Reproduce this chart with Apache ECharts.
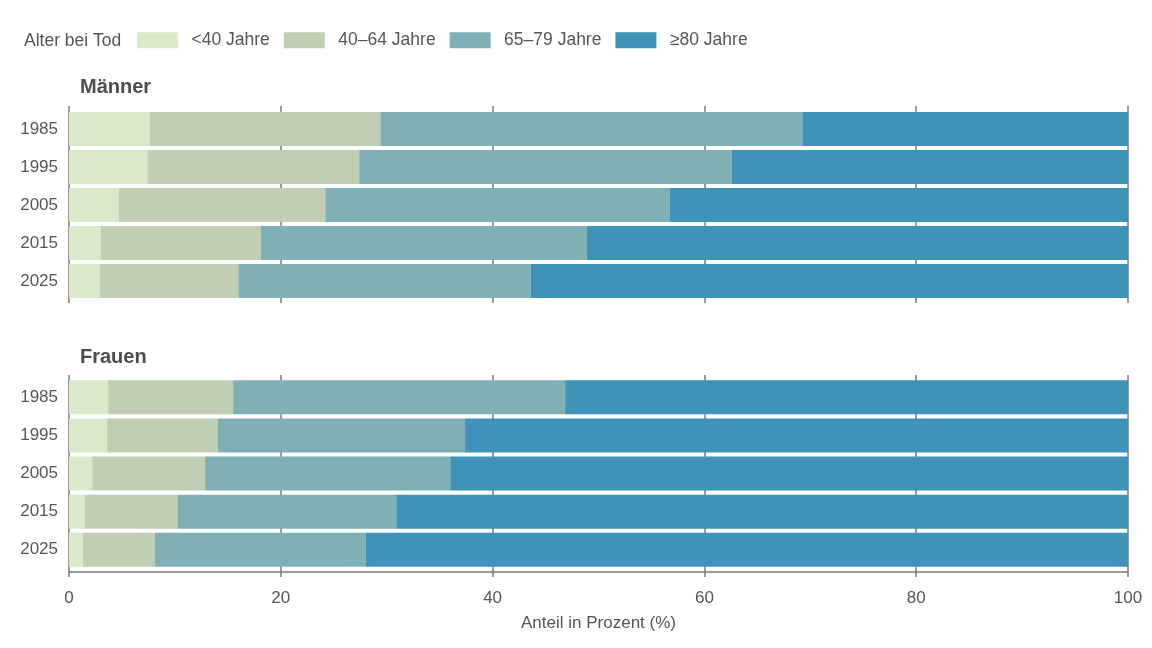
<!DOCTYPE html>
<html>
<head>
<meta charset="utf-8">
<script src="https://cdn.jsdelivr.net/npm/echarts@6/dist/echarts.min.js"></script>
<style>html,body{margin:0;padding:0;background:#fff}#c{width:1152px;height:648px}</style>
</head>
<body>
<div id="c"></div>
<script>
// ---- data ----
const years = ['1985', '1995', '2005', '2015', '2025'];
const groups = ['<40 Jahre', '40–64 Jahre', '65–79 Jahre', '≥80 Jahre'];
const xTicks = [0, 20, 40, 60, 80, 100];
// Männer (percent share per age group)
const men_u40   = [7.6, 7.4, 4.7, 3.0, 2.9];
const men_40_64 = [21.8, 20.0, 19.5, 15.1, 13.1];
const men_65_79 = [39.85, 35.2, 32.5, 30.8, 27.6];
const men_80    = [30.75, 37.4, 43.3, 51.1, 56.4];
// Frauen
const wom_u40   = [3.7, 3.6, 2.2, 1.5, 1.3];
const wom_40_64 = [11.8, 10.45, 10.65, 8.75, 6.8];
const wom_65_79 = [31.35, 23.35, 23.15, 20.65, 19.9];
const wom_80    = [53.15, 62.6, 64.0, 69.1, 72.0];

const colors = ['#d9eacb', '#c0cfb4', '#80b0b5', '#3f93b9'];
const FONT = '"Liberation Sans", Arial, sans-serif';
const TXT = '#555555';
const GRIDC = '#7a7a7a';

const chart = echarts.init(document.getElementById('c'), null, {renderer: 'canvas'});

function barSeries(vals, gi, stack) {
  return vals.map((v, i) => ({
    name: groups[i], type: 'bar', stack: stack,
    xAxisIndex: gi, yAxisIndex: gi,
    barWidth: 34, data: v,
    itemStyle: {color: colors[i]},
    emphasis: {disabled: true}, animation: false
  }));
}

const xBar = {type: 'value', min: 0, max: 100, interval: 20, show: false};
const xGridLines = (idx, withAxis) => ({
  type: 'value', min: 0, max: 100, interval: 20, gridIndex: idx,
  axisLine: {show: withAxis, lineStyle: {color: GRIDC, width: 1.5}},
  axisTick: {show: withAxis, length: 5, lineStyle: {color: GRIDC, width: 1.5}},
  axisLabel: {show: withAxis, color: TXT, fontSize: 17, fontFamily: FONT, margin: 18,
    formatter: v => xTicks.includes(v) ? String(v) : ''},
  splitLine: {show: true, lineStyle: {color: GRIDC, width: 1.5}},
  name: withAxis ? 'Anteil in Prozent (%)' : '',
  nameLocation: 'middle', nameGap: 43,
  nameTextStyle: {color: TXT, fontSize: 17, fontFamily: FONT}
});
const yCat = idx => ({
  type: 'category', data: years, inverse: true, gridIndex: idx,
  axisLine: {show: false}, axisTick: {show: false},
  axisLabel: {color: TXT, fontSize: 17, fontFamily: FONT, margin: 11}
});
const yHidden = idx => ({type: 'value', gridIndex: idx, show: false, min: 0, max: 1});

const option = {
  backgroundColor: '#fff',
  animation: false,
  grid: [
    {left: 69, right: 24, top: 110, height: 190},
    {left: 69, right: 24, top: 106, height: 197},
    {left: 69, right: 24, top: 378.3, height: 190.5},
    {left: 69, right: 24, top: 375, height: 197}
  ],
  xAxis: [
    Object.assign({gridIndex: 0}, xBar),
    xGridLines(1, false),
    Object.assign({gridIndex: 2}, xBar),
    xGridLines(3, true)
  ],
  yAxis: [yCat(0), yHidden(1), yCat(2), yHidden(3)],
  legend: {
    left: 137, top: 31.3, padding: 0, itemWidth: 41, itemHeight: 16, itemGap: 14,
    icon: 'rect', selectedMode: false,
    data: groups,
    textStyle: {color: TXT, fontSize: 17.5, fontFamily: FONT, padding: [0, 0, 0, 8.5]}
  },
  graphic: [
    {type: 'text', left: 24, top: 32, style: {text: 'Alter bei Tod', fill: TXT, font: '17.5px ' + FONT}},
    {type: 'text', left: 80, top: 77.5, style: {text: 'Männer', fill: '#4d4d4d', font: 'bold 20px ' + FONT}},
    {type: 'text', left: 80, top: 347.5, style: {text: 'Frauen', fill: '#4d4d4d', font: 'bold 20px ' + FONT}}
  ],
  series: [
    ...barSeries([men_u40, men_40_64, men_65_79, men_80], 0, 'men'),
    ...barSeries([wom_u40, wom_40_64, wom_65_79, wom_80], 2, 'wom')
  ]
};
chart.setOption(option);
</script>
</body>
</html>
